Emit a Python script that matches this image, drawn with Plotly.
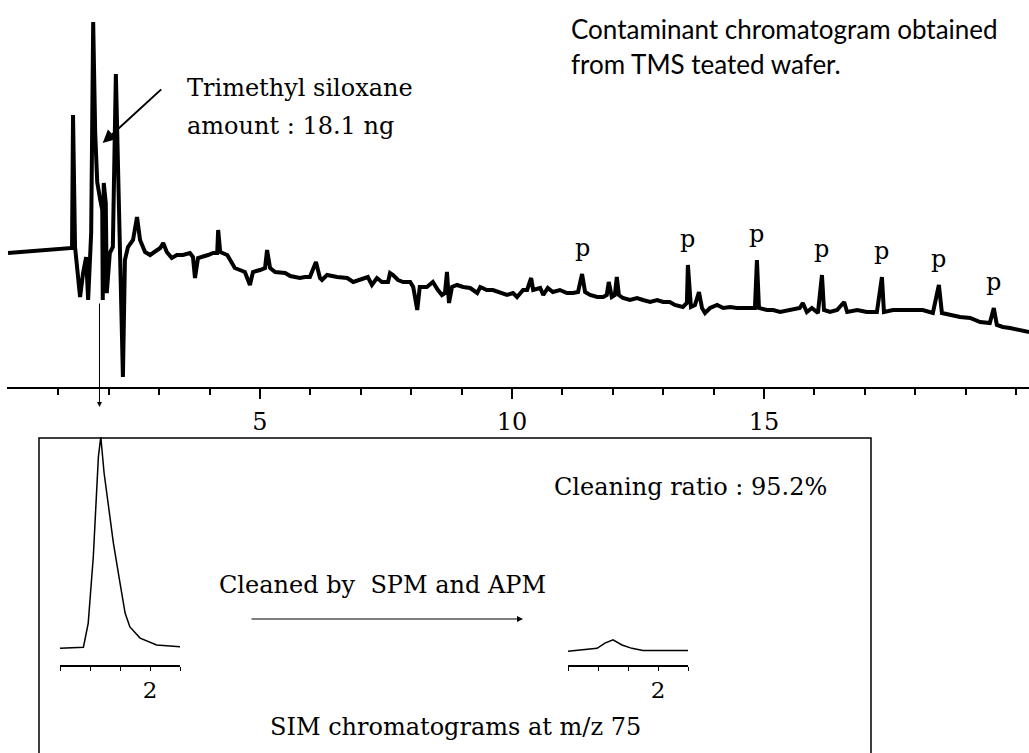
import plotly.graph_objects as go

# ---------------- data ----------------
# Total ion chromatogram (retention time in min, relative signal)
time_min = [0.00, 0.24, 0.54, 0.83, 1.13, 1.27, 1.29, 1.33, 1.43, 1.49, 1.55, 1.59, 1.65, 1.69,
            1.73, 1.77, 1.83, 1.87, 1.88, 1.90, 1.94, 1.96, 2.02, 2.08, 2.14, 2.20, 2.28, 2.32,
            2.38, 2.48, 2.56, 2.62, 2.72, 2.82, 2.92, 3.02, 3.08, 3.15, 3.25, 3.35, 3.47, 3.61,
            3.67, 3.71, 3.77, 3.87, 3.97, 4.07, 4.15, 4.17, 4.21, 4.35, 4.44, 4.50, 4.60, 4.70,
            4.80, 4.86, 5.00, 5.10, 5.14, 5.20, 5.30, 5.40, 5.50, 5.60, 5.69, 5.79, 5.89, 5.99,
            6.11, 6.19, 6.23, 6.33, 6.53, 6.73, 6.85, 6.98, 7.14, 7.22, 7.32, 7.42, 7.54, 7.58,
            7.64, 7.74, 7.84, 7.98, 8.04, 8.12, 8.17, 8.31, 8.43, 8.53, 8.61, 8.67, 8.71, 8.75,
            8.81, 8.91, 9.03, 9.17, 9.31, 9.37, 9.50, 9.62, 9.76, 9.90, 10.02, 10.10, 10.22,
            10.30, 10.38, 10.42, 10.56, 10.62, 10.71, 10.81, 10.95, 11.09, 11.21, 11.31, 11.39,
            11.45, 11.55, 11.69, 11.81, 11.88, 11.92, 11.98, 12.04, 12.08, 12.12, 12.20, 12.34,
            12.48, 12.60, 12.74, 12.88, 13.00, 13.13, 13.23, 13.39, 13.47, 13.49, 13.55, 13.63,
            13.71, 13.77, 13.83, 13.93, 14.07, 14.19, 14.33, 14.46, 14.58, 14.72, 14.82, 14.86,
            14.90, 15.06, 15.18, 15.32, 15.52, 15.71, 15.77, 15.85, 15.95, 16.07, 16.15, 16.19,
            16.31, 16.45, 16.59, 16.65, 16.85, 17.04, 17.24, 17.34, 17.38, 17.56, 17.76, 17.96,
            18.15, 18.35, 18.47, 18.53, 18.69, 18.89, 19.09, 19.29, 19.48, 19.56, 19.62, 19.74,
            19.88, 20.08, 20.26]
signal = [132, 133, 134, 135, 136, 137, 270, 138, 88, 112, 128, 85, 152, 363,
          252, 203, 185, 175, 85, 202, 182, 92, 132, 138, 311, 185, 8, 125,
          138, 145, 168, 145, 133, 130, 133, 137, 142, 133, 127, 130, 130, 132,
          128, 107, 127, 128, 130, 132, 132, 155, 133, 130, 122, 117, 115, 113,
          100, 113, 115, 117, 135, 117, 113, 112, 112, 109, 108, 107, 108, 108,
          123, 107, 105, 110, 108, 107, 103, 105, 108, 100, 107, 103, 103, 112,
          110, 105, 103, 103, 98, 75, 98, 98, 103, 95, 90, 92, 113, 82,
          98, 100, 98, 97, 92, 98, 95, 95, 93, 90, 92, 88, 95,
          95, 107, 95, 97, 90, 97, 93, 95, 92, 92, 93, 111,
          93, 90, 88, 88, 90, 103, 88, 90, 108, 90, 87, 85,
          87, 85, 83, 85, 83, 83, 80, 78, 82, 120, 78, 80,
          93, 77, 72, 77, 80, 77, 78, 77, 77, 77, 77, 125,
          77, 75, 75, 73, 75, 77, 82, 73, 77, 72, 110, 75,
          73, 75, 83, 73, 75, 73, 73, 108, 73, 75, 75, 75,
          75, 72, 100, 72, 70, 68, 67, 63, 62, 77, 60, 58,
          57, 55, 53]

# peaks labelled "p"
p_peak_times = [11.39, 13.49, 14.86, 16.15, 17.34, 18.47, 19.56]

# SIM chromatograms at m/z 75 (relative intensity, %)
sim_before_t = [1.700, 1.778, 1.794, 1.811, 1.828, 1.836, 1.847, 1.861, 1.878, 1.900,
                1.917, 1.933, 1.967, 2.022, 2.100]
sim_before_i = [7.3, 7.8, 18.3, 47.5, 91.4, 100.0, 84.2, 69.4, 53.5, 36.0,
                22.8, 16.7, 11.8, 8.8, 8.0]
sim_after_t = [1.700, 1.797, 1.823, 1.850, 1.880, 1.913, 1.950, 2.100]
sim_after_i = [6.0, 7.3, 9.6, 11.0, 8.8, 7.3, 6.4, 6.4]

main_ticks = [5, 10, 15]
main_tick_text = ["5", "10", "15"]
main_minor_ticks = [1, 2, 3, 4, 6, 7, 8, 9, 11, 12, 13, 14, 16, 17, 18, 19, 20]
sim_ticks = [1.7, 1.8, 1.9, 2.0, 2.1]
sim_tick_text = ["", "", "", "2", ""]

# ---------------- figure ----------------
W, H = 1029, 753
SERIF = "DejaVu Serif"
SANS = "Lato"

def px(x):
    return x / W

def py(y):
    return 1 - y / H

fig = go.Figure()

fig.add_trace(go.Scatter(x=time_min, y=signal, mode="lines",
                         line=dict(color="black", width=4),
                         xaxis="x", yaxis="y", showlegend=False, hoverinfo="skip"))
fig.add_trace(go.Scatter(x=sim_before_t, y=sim_before_i, mode="lines",
                         line=dict(color="black", width=1.5),
                         xaxis="x2", yaxis="y2", showlegend=False, hoverinfo="skip"))
fig.add_trace(go.Scatter(x=sim_after_t, y=sim_after_i, mode="lines",
                         line=dict(color="black", width=1.5),
                         xaxis="x3", yaxis="y3", showlegend=False, hoverinfo="skip"))

sim_xaxis = dict(range=[1.7, 2.1], showgrid=False, zeroline=False, showline=True,
                 linecolor="black", linewidth=1.5, ticks="outside", ticklen=4,
                 tickwidth=1, tickcolor="black", tickmode="array", tickvals=sim_ticks,
                 ticktext=sim_tick_text, tickfont=dict(family=SERIF, size=23, color="black"))
sim_yaxis = dict(range=[0, 100], visible=False, domain=[py(665), py(437)])

fig.update_layout(
    width=W, height=H, margin=dict(l=0, r=0, t=0, b=0),
    paper_bgcolor="white", plot_bgcolor="rgba(0,0,0,0)",
    xaxis=dict(domain=[px(7), 1], range=[-0.02, 20.258], anchor="y",
               showgrid=False, zeroline=False, showline=True, linecolor="black",
               linewidth=2, ticks="outside", ticklen=10, tickwidth=2, tickcolor="black",
               tickmode="array", tickvals=main_ticks, ticktext=main_tick_text,
               tickfont=dict(family=SERIF, size=24, color="black"), ticklabelstandoff=2,
               minor=dict(tickmode="array", tickvals=main_minor_ticks, ticks="outside",
                          ticklen=6, tickwidth=1.5, tickcolor="black")),
    yaxis=dict(domain=[py(387), 1], range=[-2, 385], visible=False, anchor="x"),
    xaxis2=dict(domain=[px(60), px(180)], anchor="y2", **sim_xaxis),
    yaxis2=dict(anchor="x2", **sim_yaxis),
    xaxis3=dict(domain=[px(568), px(688)], anchor="y3", **sim_xaxis),
    yaxis3=dict(anchor="x3", **sim_yaxis),
)

# inset frame (bottom edge runs off the page)
fig.add_shape(type="rect", xref="paper", yref="paper",
              x0=px(39), x1=px(871), y0=-0.1, y1=py(438),
              line=dict(color="black", width=1.5), fillcolor="rgba(0,0,0,0)", layer="below")

ann = []
# titles
ann.append(dict(text="Contaminant chromatogram obtained", x=px(569), y=py(29),
                font=dict(family=SANS, size=26, color="black")))
ann.append(dict(text="from TMS teated wafer.", x=px(569), y=py(64),
                font=dict(family=SANS, size=26, color="black")))
ann.append(dict(text="Trimethyl siloxane", x=px(185), y=py(88),
                font=dict(family=SERIF, size=24, color="black")))
ann.append(dict(text="amount : 18.1 ng", x=px(185), y=py(126),
                font=dict(family=SERIF, size=24, color="black")))
ann.append(dict(text="Cleaning ratio : 95.2%", x=px(552), y=py(487),
                font=dict(family=SERIF, size=24, color="black")))
ann.append(dict(text="Cleaned by  SPM and APM", x=px(217), y=py(585),
                font=dict(family=SERIF, size=24, color="black")))
ann.append(dict(text="SIM chromatograms at m/z 75", x=px(268), y=py(727),
                font=dict(family=SERIF, size=24, color="black")))
for a in ann:
    a.update(xref="paper", yref="paper", xanchor="left", yanchor="middle", showarrow=False)

# "p" peak labels
lookup = dict(zip(time_min, signal))
for t in p_peak_times:
    ann.append(dict(text="p", x=t, y=lookup[t], xref="x", yref="y", showarrow=False,
                    xanchor="center", yanchor="bottom", yshift=10,
                    font=dict(family=SERIF, size=24, color="black")))

# arrow pointing to the trimethyl siloxane peak
ann.append(dict(text="", x=1.879, y=242, xref="x", yref="y", showarrow=True,
                ax=60, ay=-55, axref="pixel", ayref="pixel",
                arrowhead=2, arrowsize=1.3, arrowwidth=2, arrowcolor="black"))
# thin arrow from the peak down to the SIM inset
ann.append(dict(text="", x=1.815, y=py(407), xref="x", yref="paper", showarrow=True,
                ax=0, ay=-105, arrowhead=2, arrowsize=1, arrowwidth=1, arrowcolor="black"))
# "cleaned" arrow
ann.append(dict(text="", x=px(523), y=py(619), xref="paper", yref="paper", showarrow=True,
                ax=-273, ay=0, arrowhead=2, arrowsize=1, arrowwidth=1.2, arrowcolor="black"))

fig.update_layout(annotations=ann)

fig.write_html("out.html")
